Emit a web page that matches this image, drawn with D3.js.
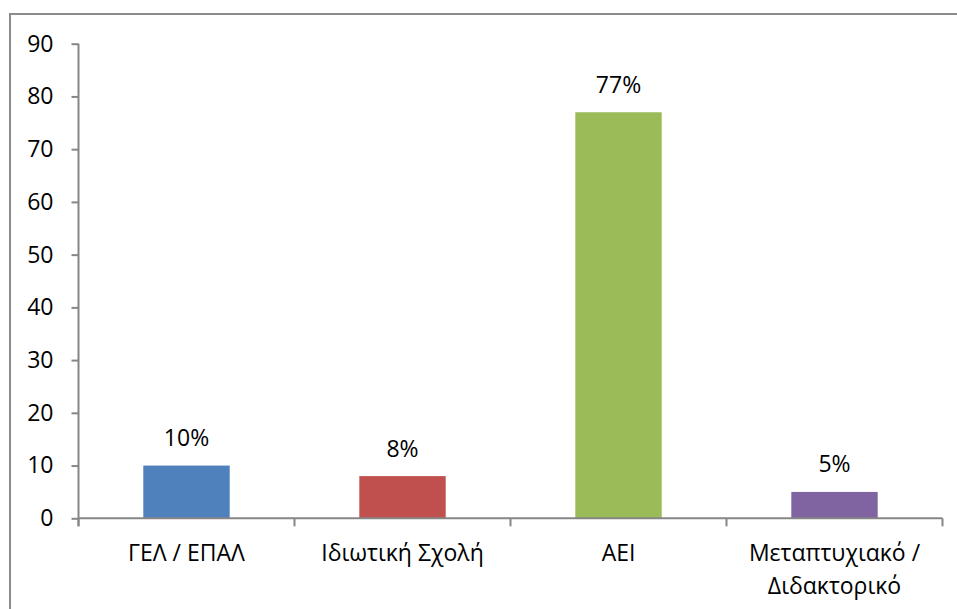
<!DOCTYPE html>
<html>
<head>
<meta charset="utf-8">
<script src="https://cdn.jsdelivr.net/npm/d3@7"></script>
<style>
  html, body { margin: 0; padding: 0; background: #fff; }
  svg { display: block; }
  text { font-family: "Open Sans", "Noto Sans", sans-serif; fill: #000; }
</style>
</head>
<body>
<svg id="chart" width="957" height="609"></svg>
<script>
// Education level shares (percent)
const categories = ["ΓΕΛ / ΕΠΑΛ", "Ιδιωτική Σχολή", "ΑΕΙ", "Μεταπτυχιακό / Διδακτορικό"];
const categoryLines = [["ΓΕΛ / ΕΠΑΛ"], ["Ιδιωτική Σχολή"], ["ΑΕΙ"], ["Μεταπτυχιακό /", "Διδακτορικό"]];
const values = [10, 8, 77, 5];
const valueLabels = ["10%", "8%", "77%", "5%"];
const colors = ["#4f81bd", "#c0504d", "#9bbb59", "#8064a2"];
const yTicks = [0, 10, 20, 30, 40, 50, 60, 70, 80, 90];

const svg = d3.select("#chart");
const axisColor = "#868686";
const fontSize = 23;

// outer frame
svg.append("rect")
  .attr("x", 10).attr("y", 14)
  .attr("width", 960).attr("height", 620)
  .attr("fill", "none")
  .attr("stroke", "#8c8c8c")
  .attr("stroke-width", 2);

const plot = { left: 78.5, right: 942.5, top: 43.7, bottom: 518.3 };

const x = d3.scaleBand()
  .domain(categories)
  .range([plot.left, plot.right])
  .paddingInner(0.6)
  .paddingOuter(0.3);

const y = d3.scaleLinear()
  .domain([0, 90])
  .range([plot.bottom, plot.top]);

// y axis
const yAxis = svg.append("g")
  .attr("transform", `translate(${plot.left},0)`)
  .call(d3.axisLeft(y).tickValues(yTicks).tickSize(7).tickPadding(18));
yAxis.select(".domain").attr("stroke", axisColor).attr("stroke-width", 2)
  .attr("d", `M0,${plot.top}V${plot.bottom + 8}`);
yAxis.selectAll(".tick line").attr("stroke", axisColor).attr("stroke-width", 2);
yAxis.selectAll(".tick text")
  .attr("font-size", fontSize)
  .attr("font-family", "\"Open Sans\", sans-serif")
  .attr("fill", "#000");

// bars
svg.append("g").selectAll("rect")
  .data(values)
  .join("rect")
  .attr("x", (d, i) => x(categories[i]))
  .attr("y", d => y(d))
  .attr("width", x.bandwidth())
  .attr("height", d => y(0) - y(d))
  .attr("fill", (d, i) => colors[i]);

// x axis with ticks at band boundaries
const xg = svg.append("g");
xg.append("line")
  .attr("x1", plot.left).attr("x2", plot.right)
  .attr("y1", y(0)).attr("y2", y(0))
  .attr("stroke", axisColor).attr("stroke-width", 2);
const boundaries = categories.map(c => x(c) - (x.step() - x.bandwidth()) / 2);
boundaries.push(plot.right);
xg.selectAll("line.tick")
  .data(boundaries)
  .join("line")
  .attr("class", "tick")
  .attr("x1", d => d).attr("x2", d => d)
  .attr("y1", y(0)).attr("y2", y(0) + 8)
  .attr("stroke", axisColor).attr("stroke-width", 2);

// category labels
const lab = svg.append("g").selectAll("text")
  .data(categoryLines)
  .join("text")
  .attr("text-anchor", "middle")
  .attr("font-size", fontSize)
  .attr("x", (d, i) => x(categories[i]) + x.bandwidth() / 2)
  .attr("y", 561);
lab.selectAll("tspan")
  .data(d => d)
  .join("tspan")
  .attr("x", function () { return d3.select(this.parentNode).attr("x"); })
  .attr("dy", (d, j) => j === 0 ? 0 : 33)
  .text(d => d);

// value labels above bars
svg.append("g").selectAll("text")
  .data(values)
  .join("text")
  .attr("text-anchor", "middle")
  .attr("font-size", fontSize)
  .attr("x", (d, i) => x(categories[i]) + x.bandwidth() / 2)
  .attr("y", d => y(d) - 19.5)
  .text((d, i) => valueLabels[i]);
</script>
</body>
</html>
